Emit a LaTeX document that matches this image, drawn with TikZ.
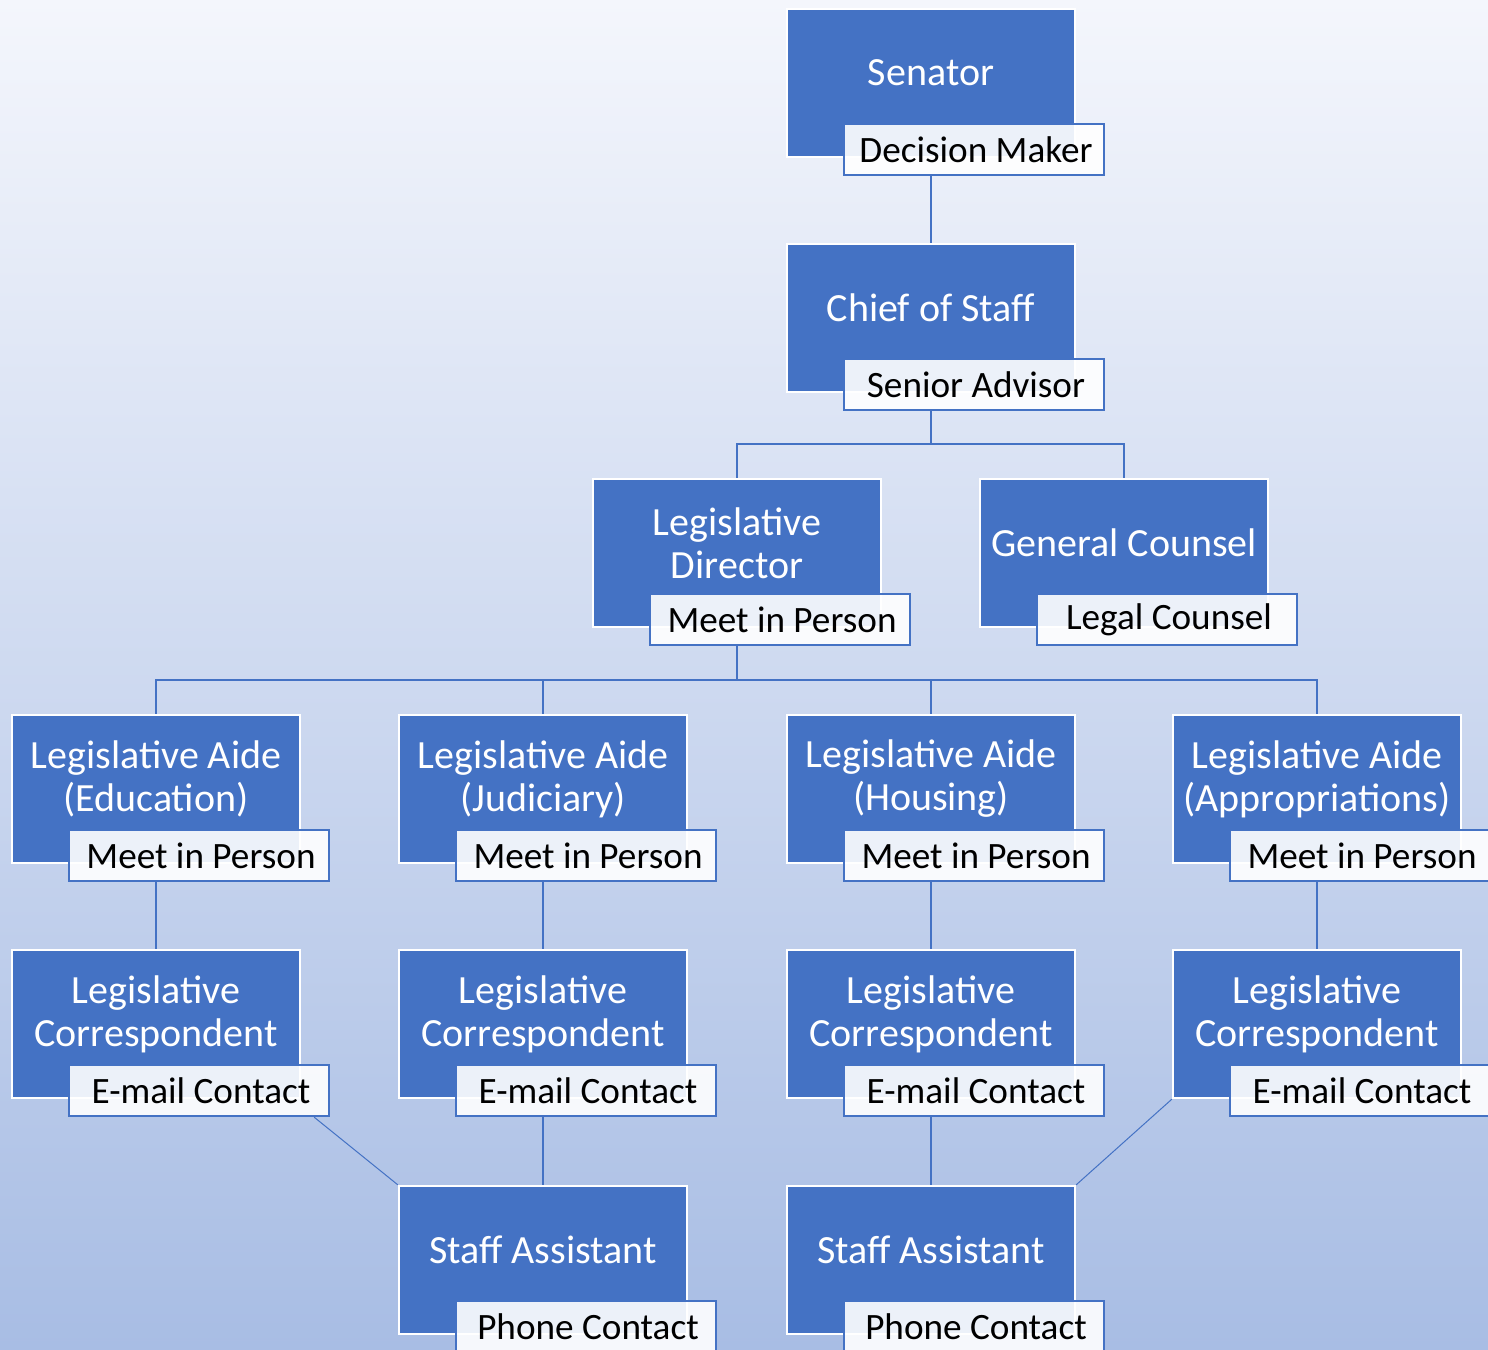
\documentclass[tikz,border=0pt]{standalone}
\usepackage{fontspec}
\setmainfont{Carlito}
\usetikzlibrary{positioning}
\definecolor{orgblue}{RGB}{68,114,196}
\definecolor{bgtop}{RGB}{244,246,252}
\definecolor{bgbot}{RGB}{168,189,228}

\tikzset{
  post/.style={draw=white, line width=1.2pt, fill=orgblue, minimum width=144pt,
    minimum height=74pt, inner sep=0pt},
  posttext/.style={text=white, align=center, inner sep=0pt,
    font=\fontsize{20}{21.5}\selectfont},
  tag/.style={draw=orgblue, line width=1.2pt, fill=white, fill opacity=0.9,
    text opacity=1, minimum width=130pt, minimum height=25.5pt, inner sep=0pt,
    font=\fontsize{18.6}{21.5}\selectfont},
  link/.style={draw=orgblue, line width=1pt},
  thinlink/.style={draw=orgblue, line width=0.5pt}
}

% #1 name, #2 centre, #3 title, #4 tag
\newcommand{\post}[4]{%
  \node[post] (#1) at (#2) {};
  \node[posttext] (#1-t) at ([yshift=5pt]#1.center) {#3};
  \node[tag, anchor=south east] (#1-l) at ([xshift=14.5pt,yshift=-9pt]#1.south east) {\hspace{2pt}#4};
}

\begin{document}
\begin{tikzpicture}[x=0.5pt,y=-0.5pt]
  \useasboundingbox (0,0) rectangle (1488,1349);
  \clip (0,0) rectangle (1488,1349);
  \shade[top color=bgtop, bottom color=bgbot] (0,0) rectangle (1488,1349);

  % boxes
  \post{sen}{931,83}{Senator}{Decision Maker}
  \post{cos}{931,318}{Chief of Staff}{Senior Advisor}
  \post{dir}{737,553}{Legislative\\Director}{Meet in Person}
  \post{gc}{1124,553}{General Counsel}{Legal Counsel}

  \post{aed}{156,789}{Legislative Aide\\(Education)}{Meet in Person}
  \post{ajud}{543,789}{Legislative Aide\\(Judiciary)}{Meet in Person}
  \post{ahou}{931,789}{Legislative Aide\\(Housing)}{Meet in Person}
  \post{aapp}{1317,789}{Legislative Aide\\(Appropriations)}{Meet in Person}

  \post{ced}{156,1024}{Legislative\\Correspondent}{E-mail Contact}
  \post{cjud}{543,1024}{Legislative\\Correspondent}{E-mail Contact}
  \post{chou}{931,1024}{Legislative\\Correspondent}{E-mail Contact}
  \post{capp}{1317,1024}{Legislative\\Correspondent}{E-mail Contact}

  \post{sa1}{543,1260}{Staff Assistant}{Phone Contact}
  \post{sa2}{931,1260}{Staff Assistant}{Phone Contact}

  % connectors
  \coordinate (cos-j) at (931,444);
  \coordinate (dir-j) at (737,680);

  \draw[link] (sen-l.south -| sen) -- (cos.north);
  \draw[link] (cos-l.south -| cos) -- (cos-j);
  \draw[link] (dir.north) |- (cos-j) -| (gc.north);
  \draw[link] (dir-l.south -| dir) -- (dir-j);
  \foreach \a in {aed,ajud,ahou,aapp}
    \draw[link] (dir-j) -| (\a.north);

  \foreach \a/\c in {aed/ced,ajud/cjud,ahou/chou,aapp/capp}
    \draw[link] (\a-l.south -| \a) -- (\c.north);

  \draw[link] (cjud-l.south -| cjud) -- (sa1.north);
  \draw[link] (chou-l.south -| chou) -- (sa2.north);
  \draw[thinlink] ([xshift=-8pt]ced-l.south east) -- (sa1.north west);
  \draw[thinlink] (capp.south west) -- (sa2.north east);
\end{tikzpicture}
\end{document}
